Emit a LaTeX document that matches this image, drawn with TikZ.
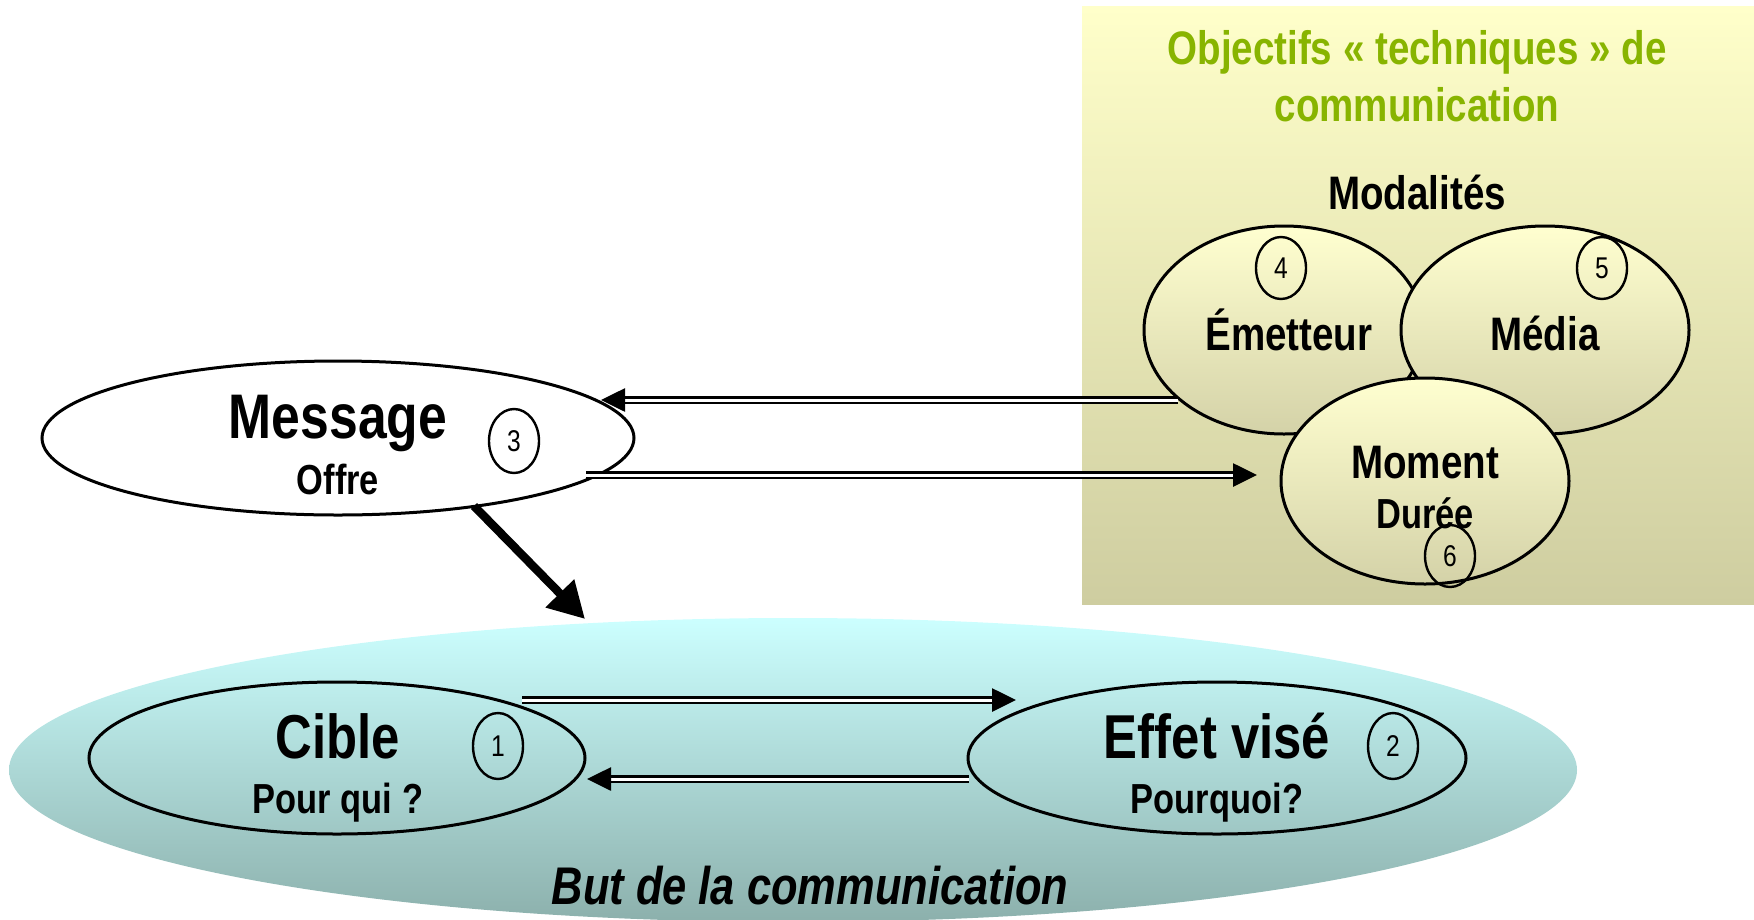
\documentclass[tikz,border=0pt]{standalone}
\usepackage{fontspec}
\setmainfont{Liberation Sans}[FakeStretch=0.82]
\usetikzlibrary{shapes.geometric,arrows.meta}
\definecolor{titlegreen}{RGB}{136,180,0}
\definecolor{panelTop}{RGB}{255,255,202}
\definecolor{panelBot}{RGB}{206,205,160}
\definecolor{ovalTop}{RGB}{255,255,208}
\definecolor{ovalBot}{RGB}{212,210,168}
\definecolor{aimTop}{RGB}{204,255,255}
\definecolor{aimBot}{RGB}{140,176,172}
\begin{document}
\begin{tikzpicture}[x=1pt,y=-1pt,
  oval/.style={ellipse, draw=black, line width=3pt, inner sep=0pt},
  numoval/.style={ellipse, draw=black, line width=2.4pt, inner sep=0pt,
    minimum width=50pt, minimum height=62pt, font=\fontsize{30}{30}\selectfont},
  bigtxt/.style={anchor=base, font=\fontsize{62}{62}\selectfont\bfseries},
  midtxt/.style={anchor=base, font=\fontsize{47}{47}\selectfont\bfseries},
  smalltxt/.style={anchor=base, font=\fontsize{42}{42}\selectfont\bfseries},
  dblarrow/.style={double=white, double distance=3pt, line width=2.7pt,
    -{Triangle[length=24pt,width=23pt]}},
  heavyarrow/.style={line width=8.5pt, -{Triangle[length=36pt,width=38pt]}}
]
\useasboundingbox (0,0) rectangle (1754,919);

% technical objectives panel
\node[rectangle, inner sep=0pt, anchor=north west, minimum width=672pt,
  minimum height=598pt, top color=panelTop, bottom color=panelBot] (panel) at (1082,6) {};
\node[anchor=base, text=titlegreen, font=\fontsize{47}{47}\selectfont\bfseries]
  (title1) at (1417,64) {Objectifs « techniques » de};
\node[anchor=base, text=titlegreen, font=\fontsize{47}{47}\selectfont\bfseries]
  (title2) at (1417,121) {communication};
\node[midtxt] (modal) at (1417,209) {Modalités};

% the three modalities
\node[oval, minimum width=280pt, minimum height=208pt,
  top color=ovalTop, bottom color=ovalBot] (emet) at (1284,330) {};
\node[oval, minimum width=288pt, minimum height=208pt,
  top color=ovalTop, bottom color=ovalBot] (media) at (1545,330) {};
\node[oval, minimum width=288pt, minimum height=206pt,
  top color=ovalTop, bottom color=ovalBot] (moment) at (1425,481) {};
\node[midtxt] (temet) at (1289,350) {Émetteur};
\node[midtxt] (tmedia) at (1545,350) {Média};
\node[midtxt] (tmoment) at (1425,478) {Moment};
\node[smalltxt] (tduree) at (1425,528) {Durée};
\node[numoval] (n4) at (1281,268) {4};
\node[numoval] (n5) at (1602,268) {5};
\node[numoval] (n6) at (1450,556) {6};

% message
\node[oval, fill=white, minimum width=592pt, minimum height=154pt] (msg) at (338,438) {};
\node[anchor=base, font=\fontsize{63}{63}\selectfont\bfseries] (tmsg) at (338,438) {Message};
\node[smalltxt] (toffre) at (338,494) {Offre};
\node[numoval, minimum height=64pt] (n3) at (514,441) {3};

% purpose of the communication
\node[ellipse, inner sep=0pt, minimum width=1568pt, minimum height=304pt,
  top color=aimTop, bottom color=aimBot] (aim) at (793,770) {};
\node[oval, minimum width=496pt, minimum height=152pt] (cible) at (337,758) {};
\node[oval, minimum width=498pt, minimum height=152pt] (effet) at (1217,758) {};
\node[bigtxt] (tcible) at (338,758) {Cible};
\node[smalltxt] (tpour) at (338,813) {Pour qui ?};
\node[bigtxt] (teffet) at (1217,758) {Effet visé};
\node[smalltxt] (tpourquoi) at (1217,813) {Pourquoi?};
\node[numoval, minimum height=66pt] (n1) at (498,746) {1};
\node[numoval, minimum height=66pt] (n2) at (1393,746) {2};
\node[anchor=base, font=\fontsize{53}{53}\selectfont\bfseries\itshape] (tbut) at (810,904)
  {But de la communication};

% connector end points
\coordinate (a1s) at (1178,400);
\coordinate (a1e) at (601,400);
\coordinate (a2s) at (586,475);
\coordinate (a2e) at (1257,475);
\coordinate (a3s) at (474,506);
\coordinate (a3e) at (585,619);
\coordinate (a4s) at (522,700);
\coordinate (a4e) at (1016,700);
\coordinate (a5s) at (969,779);
\coordinate (a5e) at (587,779);

\draw[dblarrow] (a1s) -- (a1e);
\draw[dblarrow] (a2s) -- (a2e);
\draw[heavyarrow] (a3s) -- (a3e);
\draw[dblarrow] (a4s) -- (a4e);
\draw[dblarrow] (a5s) -- (a5e);
\end{tikzpicture}
\end{document}
